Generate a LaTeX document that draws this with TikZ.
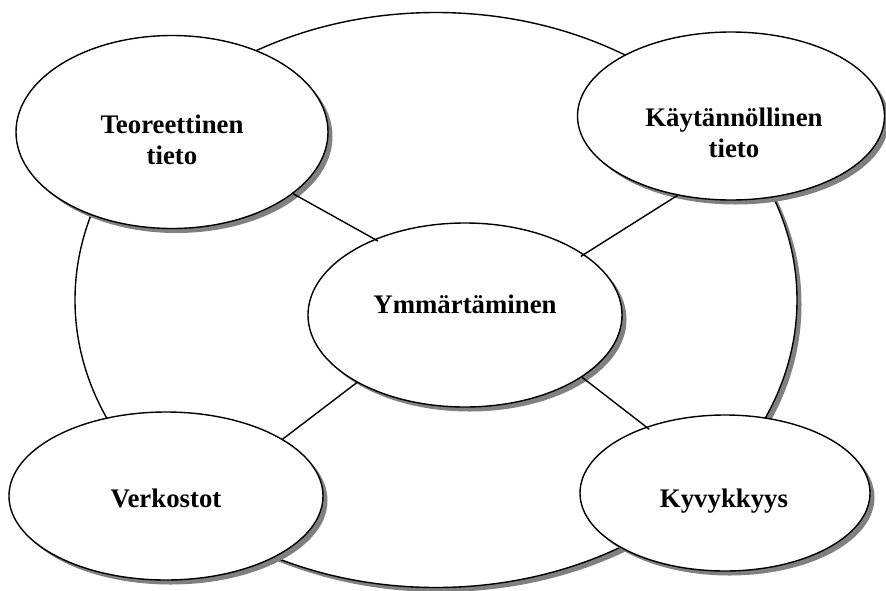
\documentclass[tikz,border=0pt]{standalone}
\usepackage{fontspec}
\setmainfont{Liberation Serif}
\usetikzlibrary{shapes.geometric,shadows}
\begin{document}
\begin{tikzpicture}[x=1pt,y=-1pt,
  bubble/.style={ellipse, draw=black, line width=1.4pt, fill=white, inner sep=0pt,
    drop shadow={shadow xshift=4.5pt, shadow yshift=-4.5pt, fill=black!50, opacity=1}},
  lbl/.style={font=\fontsize{26.8}{30.8}\selectfont\bfseries, align=center,
    anchor=base, inner sep=0pt},
  link/.style={line width=1.4pt}]
\useasboundingbox (0,0) rectangle (886,590);

% outer frame
\node[bubble, minimum width=722, minimum height=575] (world) at (436,300) {};

% the five bubbles
\node[bubble, minimum width=312, minimum height=193] (teo)  at (172,132) {};
\node[bubble, minimum width=307, minimum height=168] (kay)  at (731,116) {};
\node[bubble, minimum width=314, minimum height=184] (ymm)  at (465,315) {};
\node[bubble, minimum width=314, minimum height=168] (verk) at (166,496) {};
\node[bubble, minimum width=290, minimum height=156] (kyv)  at (725,493) {};

% labels (base anchor sits on the last line)
\node[lbl] (teoT)  at (172,164) {Teoreettinen\\tieto};
\node[lbl] (kayT)  at (734,157) {Käytännöllinen\\tieto};
\node[lbl] (ymmT)  at (465,313) {Ymmärtäminen};
\node[lbl] (verkT) at (166,507) {Verkostot};
\node[lbl] (kyvT)  at (724,507) {Kyvykkyys};

% connectors to the centre
\draw[link, shorten >=-4pt] (teo.-27) -- (ymm.140);
\draw[link, shorten >=-4pt] (kay.236) -- (ymm.27);
\draw[link] (verk.26) -- (ymm.212);
\draw[link, shorten >=-4pt] (ymm.-28) -- (kyv.140);
\end{tikzpicture}
\end{document}
